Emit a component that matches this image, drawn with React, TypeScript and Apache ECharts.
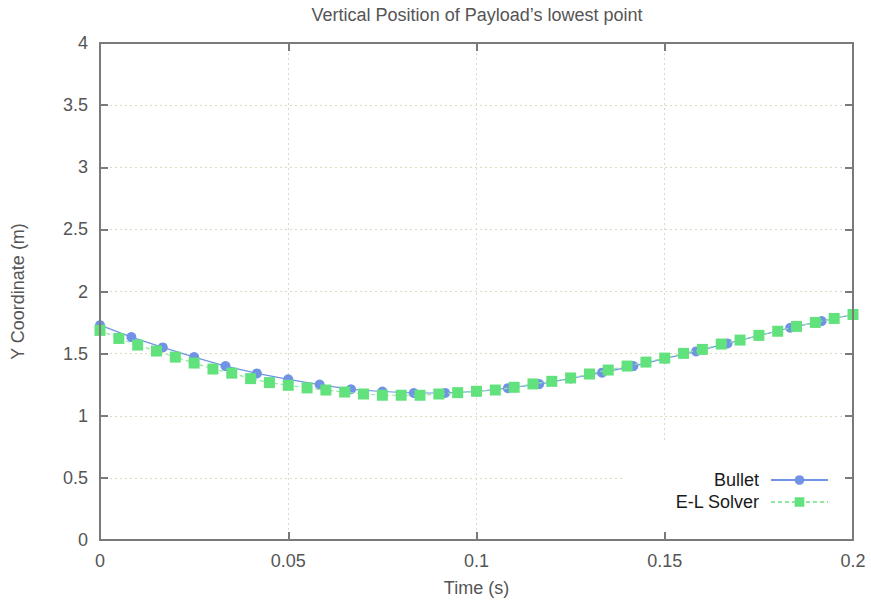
import React, { useEffect, useRef } from "react";
import * as echarts from "echarts";

const bulletT = [0, 0.00833, 0.01667, 0.025, 0.03333, 0.04167, 0.05, 0.05833, 0.06667, 0.075, 0.08333, 0.09167, 0.1, 0.10833, 0.11667, 0.125, 0.13333, 0.14167, 0.15, 0.15833, 0.16667, 0.175, 0.18333, 0.19167, 0.2];
const bulletY = [1.729, 1.633, 1.55, 1.472, 1.4, 1.341, 1.293, 1.251, 1.213, 1.195, 1.183, 1.184, 1.195, 1.222, 1.255, 1.3, 1.347, 1.4, 1.46, 1.518, 1.582, 1.645, 1.708, 1.762, 1.815];

const elT = [0, 0.005, 0.01, 0.015, 0.02, 0.025, 0.03, 0.035, 0.04, 0.045, 0.05, 0.055, 0.06, 0.065, 0.07, 0.075, 0.08, 0.085, 0.09, 0.095, 0.1, 0.105, 0.11, 0.115, 0.12, 0.125, 0.13, 0.135, 0.14, 0.145, 0.15, 0.155, 0.16, 0.165, 0.17, 0.175, 0.18, 0.185, 0.19, 0.195, 0.2];
const elY = [1.687, 1.622, 1.569, 1.521, 1.472, 1.424, 1.376, 1.343, 1.299, 1.267, 1.245, 1.224, 1.207, 1.191, 1.175, 1.165, 1.165, 1.165, 1.175, 1.186, 1.197, 1.207, 1.229, 1.256, 1.277, 1.304, 1.336, 1.368, 1.4, 1.432, 1.464, 1.502, 1.534, 1.577, 1.609, 1.647, 1.68, 1.719, 1.751, 1.783, 1.815];

const seriesNames = ["Bullet", "E-L Solver"];
const titleText = "Vertical Position of Payload\u2019s lowest point";
const xName = "Time (s)";
const yName = "Y Coordinate (m)";

const FONT = "'Liberation Sans', Arial, sans-serif";
const TEXT = "#555555";
const AXIS = "#7a7a7a";
const GRIDC = "#d9dcc2";
const BLUE = "#7093e6";
const GREEN = "#62e27d";

export default function App() {
  const ref = useRef<HTMLDivElement>(null);
  useEffect(() => {
    if (!ref.current) return;
    const chart = echarts.init(ref.current, null, { renderer: "svg" });
    const tickAxisCommon = {
      type: "value" as const,
      z: 6,
      axisLine: { show: true, onZero: false, lineStyle: { color: AXIS, width: 2 } },
      axisTick: { show: true, inside: true, length: 8, lineStyle: { color: AXIS, width: 2 } },
      splitLine: { show: false },
    };
    chart.setOption({
      animation: false,
      backgroundColor: "#ffffff",
      textStyle: { fontFamily: FONT },
      graphic: [
        {
          type: "text",
          x: 477,
          y: 15,
          style: {
            text: titleText,
            fill: TEXT,
            font: `18px ${FONT}`,
            textAlign: "center",
            textVerticalAlign: "middle",
          },
        },
      ],
      grid: { left: 100, right: 18, top: 43, bottom: 61, containLabel: false },
      legend: {
        orient: "vertical",
        right: 20,
        bottom: 63,
        align: "right",
        z: 4,
        backgroundColor: "#ffffff",
        padding: [29, 22, 28, 53],
        itemWidth: 57,
        itemHeight: 12,
        itemGap: 4,
        textStyle: { fontSize: 18, color: "#1a1a1a", fontFamily: FONT, padding: [0, 7, 0, 0], lineHeight: 18 },
        data: seriesNames,
      },
      xAxis: [
        {
          ...tickAxisCommon,
          position: "bottom",
          min: 0,
          max: 0.2,
          interval: 0.05,
          name: xName,
          nameLocation: "middle",
          nameGap: 39,
          nameTextStyle: { fontSize: 18, color: TEXT, fontFamily: FONT },
          axisLabel: { show: true, fontSize: 18, color: TEXT, margin: 12, fontFamily: FONT },
        },
        {
          ...tickAxisCommon,
          position: "top",
          min: 0,
          max: 0.2,
          interval: 0.05,
          axisLabel: { show: false },
        },
        {
          type: "value",
          position: "bottom",
          min: 0,
          max: 0.2,
          interval: 0.05,
          z: 0,
          axisLine: { show: false },
          axisTick: { show: false },
          axisLabel: { show: false },
          splitLine: { show: true, lineStyle: { color: GRIDC, width: 1, type: [2, 3] } },
        },
      ],
      yAxis: [
        {
          ...tickAxisCommon,
          position: "left",
          min: 0,
          max: 4,
          interval: 0.5,
          name: yName,
          nameLocation: "middle",
          nameGap: 73,
          nameTextStyle: { fontSize: 18, color: TEXT, fontFamily: FONT },
          axisLabel: { show: true, fontSize: 18, color: TEXT, margin: 12, fontFamily: FONT },
        },
        {
          ...tickAxisCommon,
          position: "right",
          min: 0,
          max: 4,
          interval: 0.5,
          axisLabel: { show: false },
        },
        {
          type: "value",
          position: "left",
          min: 0,
          max: 4,
          interval: 0.5,
          z: 0,
          axisLine: { show: false },
          axisTick: { show: false },
          axisLabel: { show: false },
          splitLine: { show: true, lineStyle: { color: GRIDC, width: 1, type: [2, 3] } },
        },
      ],
      series: [
        {
          name: seriesNames[0],
          type: "line",
          xAxisIndex: 0,
          yAxisIndex: 0,
          z: 2,
          data: bulletT.map((t, i) => [t, bulletY[i]]),
          symbol: "circle",
          symbolSize: 10,
          showAllSymbol: true,
          itemStyle: { color: BLUE },
          lineStyle: { color: BLUE, width: 1.2, type: "solid" },
        },
        {
          name: seriesNames[1],
          type: "line",
          xAxisIndex: 0,
          yAxisIndex: 0,
          z: 3,
          data: elT.map((t, i) => [t, elY[i]]),
          symbol: "rect",
          symbolSize: 11,
          showAllSymbol: true,
          itemStyle: { color: GREEN },
          lineStyle: { color: "#8ee89f", width: 1.2, type: [4, 3] },
        },
      ],
    });
    return () => chart.dispose();
  }, []);
  return (
    <div
      ref={ref}
      style={{ position: "fixed", left: 0, top: 0, width: 871, height: 602 }}
    />
  );
}
